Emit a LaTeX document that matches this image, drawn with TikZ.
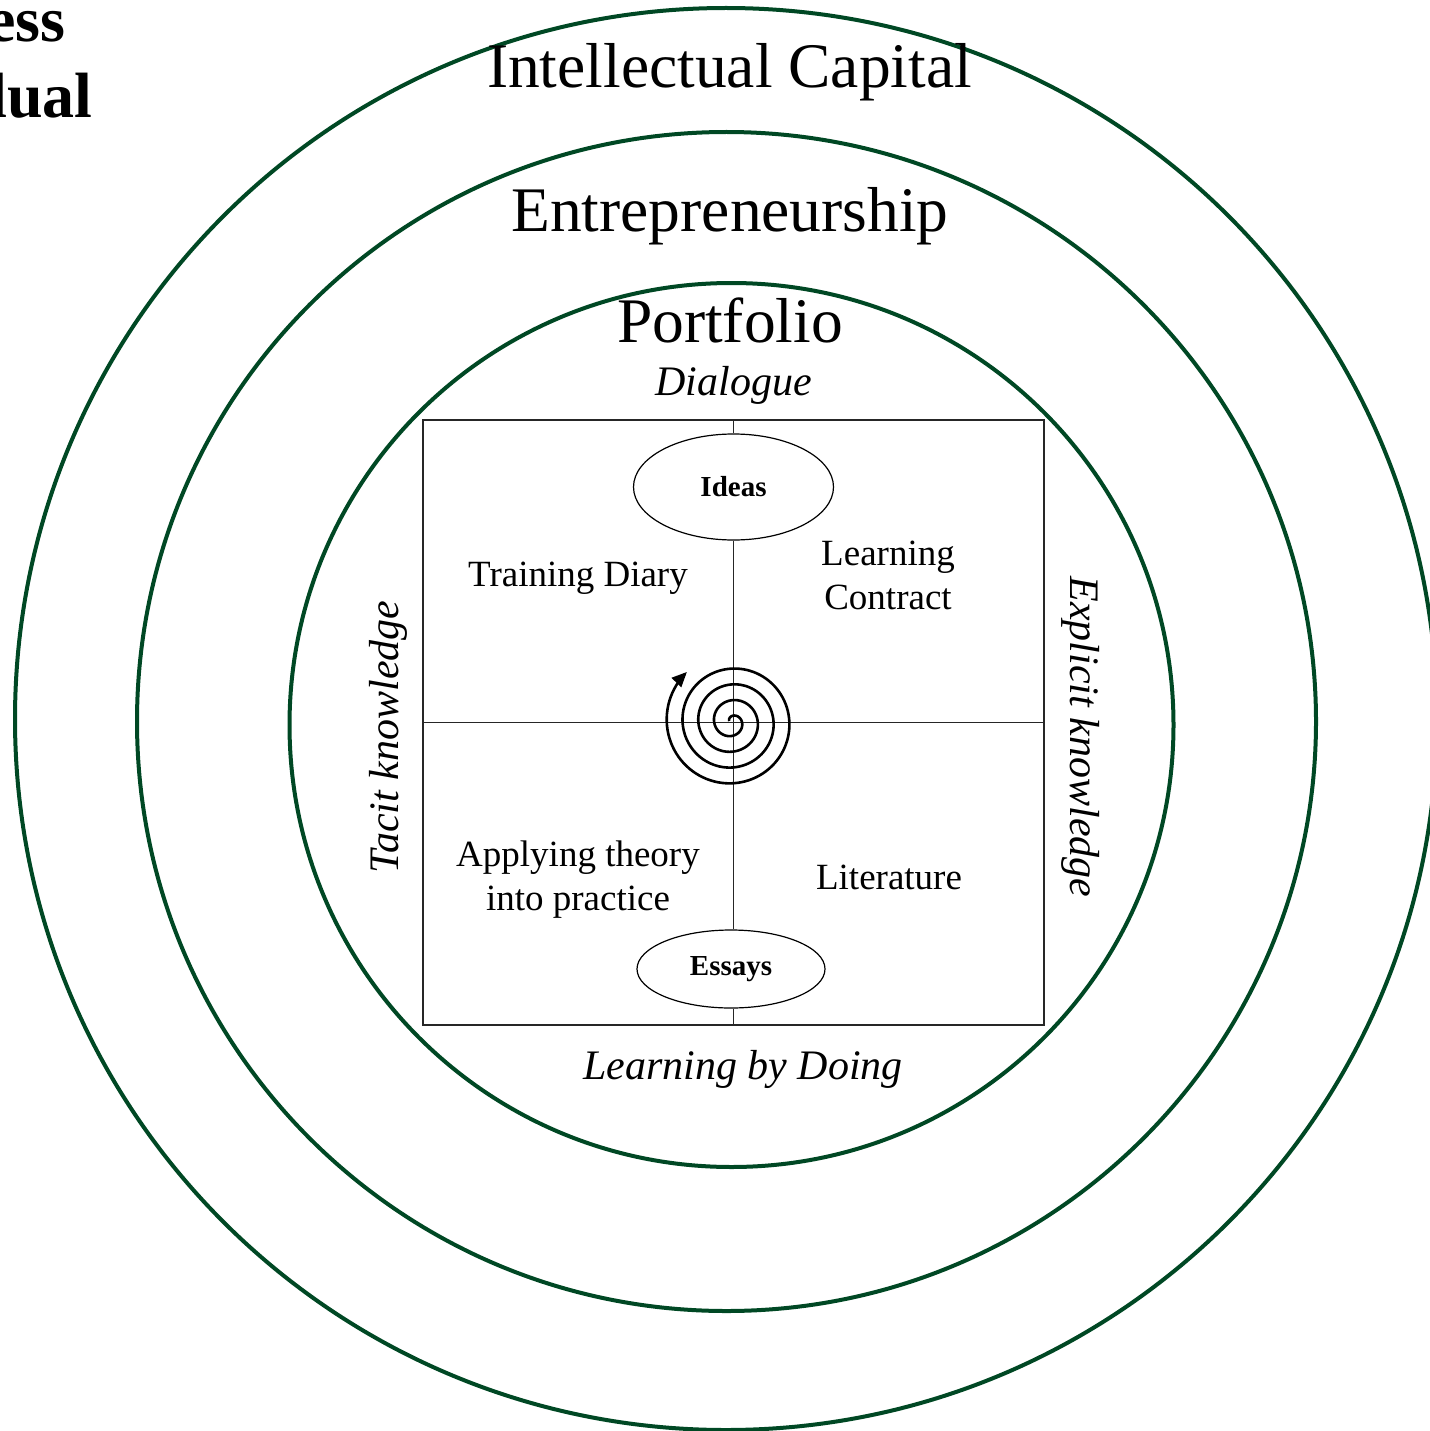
\documentclass[tikz,border=0pt]{standalone}
\usepackage{fontspec}
\setmainfont{Liberation Serif}
\usetikzlibrary{shapes.geometric, arrows.meta, positioning}
\definecolor{ringgreen}{RGB}{0,72,36}
\tikzstyle{ring} = [
	line width=4pt,
	draw=ringgreen
]
\tikzstyle{title} = [
	font=\fontsize{63.5}{70}\selectfont,
	anchor=base,
	inner sep=0pt
]
\tikzstyle{corner} = [
	font=\fontsize{64}{76}\selectfont\bfseries,
	anchor=base east,
	inner sep=0pt
]
\tikzstyle{axislabel} = [
	font=\fontsize{42}{48}\selectfont\itshape,
	inner sep=0pt
]
\tikzstyle{quadrant} = [
	font=\fontsize{37}{44}\selectfont,
	align=center,
	inner sep=0pt
]
\tikzstyle{oval} = [
	ellipse,
	draw=black,
	line width=1.2pt,
	inner sep=0pt,
	font=\fontsize{29}{34}\selectfont\bfseries
]
\tikzstyle{quadbox} = [
	rectangle,
	draw=black!85,
	line width=1.2pt,
	minimum width=621pt,
	minimum height=605pt,
	inner sep=0pt
]
\tikzstyle{axis} = [line width=1.2pt, draw=black!85]
\tikzstyle{spiralline} = [line width=2.6pt, -{Triangle[length=15pt,width=13pt]}]

\begin{document}
\begin{tikzpicture}[x=1pt, y=-1pt]
	\useasboundingbox (0,0) rectangle (1429,1431);

	% rings
	\draw [ring] (726,719) circle (711pt);
	\draw [ring] (726.5,721.5) circle (589.5pt);
	\draw [ring] (731.5,725) circle (442pt);

	\node (ess) [corner] at (66,42) {ess};
	\node (dual) [corner] at (93,118) {dual};

	\node (intcap) [title] at (729.5,88) {Intellectual Capital};
	\node (entre) [title] at (730,232) {Entrepreneurship};
	\node (portf) [title] at (730,342) {Portfolio};
	\node (dialogue) [axislabel, anchor=base] at (733.5,395) {Dialogue};

	% quadrants
	\node (box) [quadbox] at (733.5,722.5) {};
	\node (ideas) [oval, minimum width=200pt, minimum height=106pt] at (733.5,487) {Ideas};
	\node (essays) [oval, minimum width=188pt, minimum height=78pt] at (731,969) {Essays};

	\draw [axis] (box.north) -- (ideas);
	\draw [axis] (ideas) -- (ideas |- essays.north);
	\draw [axis] (essays.south -| box.south) -- (box.south);
	\draw [axis] (box.west) -- (box.east);

	\node (diary) [quadrant] at (578,578) {Training Diary};
	\node (contract) [quadrant] at (888,575) {Learning\\Contract};
	\node (theory) [quadrant] at (578,880) {Applying theory\\into practice};
	\node (literature) [quadrant] at (889,877) {Literature};

	\node (doing) [axislabel] at (743,1069) {Learning by Doing};
	\node (tacit) [axislabel, rotate=90] at (388,737) {Tacit knowledge};
	\node (explicit) [axislabel, rotate=-90] at (1081,737) {Explicit knowledge};

	% spiral
	\draw [spiralline] plot [domain=200:1668, samples=400, variable=\t, smooth]
		({732+(0.0439*\t-5.85)*cos(\t)}, {722+(0.0439*\t-5.85)*sin(\t)});
\end{tikzpicture}
\end{document}
